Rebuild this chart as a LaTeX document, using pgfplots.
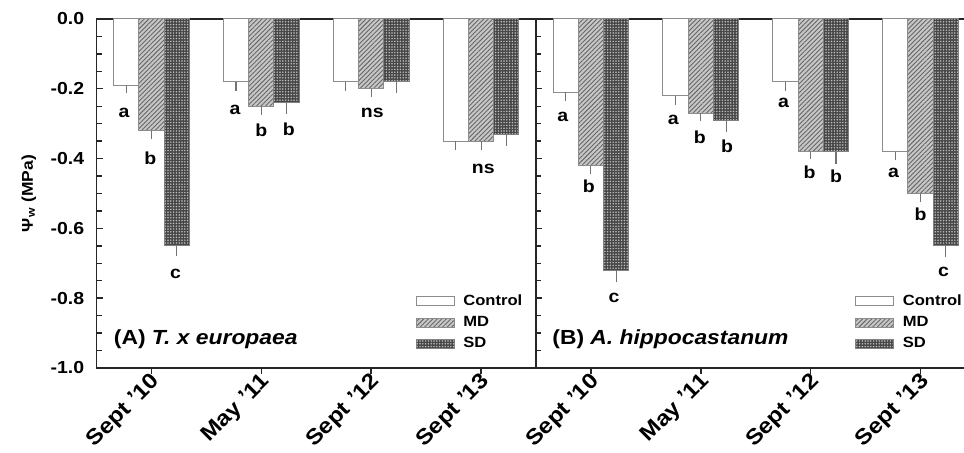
\documentclass[border=0pt]{standalone}
\usepackage{fontspec}
\setmainfont{Liberation Sans}[FakeStretch=1.12]
\usepackage{pgfplots}
\pgfplotsset{compat=1.18}
\usetikzlibrary{patterns.meta}

\tikzset{lett/.style={font=\bfseries\fontsize{8.7}{10}\selectfont, inner sep=0pt}}
\pgfplotsset{
  panel/.style={
    scale only axis, width=219.75pt, height=174.5pt,
    anchor=south west,
    ymin=-1, ymax=0, xmin=-0.5, xmax=3.5,
    ytick={-1,-0.8,-0.6,-0.4,-0.2,0},
    minor y tick num=3,
    ytick pos=left,
    xtick={0,1,2,3}, xtick pos=bottom,
    xticklabels={Sept '10, May '11, Sept '12, Sept '13},
    xtick align=outside,
    major tick length=3pt, minor tick length=2.5pt,
    axis line style={black!85, line width=0.8pt},
    every tick/.style={black!85, line width=0.7pt},
    y tick label style={font=\bfseries\fontsize{8.7}{10}\selectfont, inner sep=1pt, xshift=-5pt},
    x tick label style={font=\bfseries\fontsize{10.8}{12}\selectfont, rotate=45, anchor=north east, inner sep=0.5pt, xshift=1pt, yshift=2.2pt},
    ybar, bar width=0.23,
    legend style={draw=none, fill=none, inner sep=0pt, at={(axis description cs:0.726,0.215)}, anchor=north west,
      font=\bfseries\fontsize{7.4}{9}\selectfont, row sep=2.8pt, nodes={inner sep=0.6pt},
      /tikz/every odd column/.append style={column sep=3.6pt}},
    legend cell align=left,
    legend image code/.code={\draw[#1] (0pt,-2.25pt) rectangle (19pt,2.25pt);},
  },
  eb/.style={error bars/.cd, y dir=minus, y explicit,
      error bar style={black!55, line width=0.55pt},
      error mark options={black!55, mark size=1.75pt, line width=0.55pt}},
  ctrl/.style={draw=black!45, line width=0.5pt, fill=white, bar shift=-0.23},
  md/.style={draw=black!45, line width=0.5pt, fill=black!22,
    postaction={pattern={Lines[angle=45,distance=1.6pt,line width=0.45pt]}, pattern color=black!60}, bar shift=0},
  sd/.style={draw=black!50, line width=0.5pt, fill=black!72,
    postaction={pattern={Dots[distance=1.4pt,radius=0.42pt]}, pattern color=black!25}, bar shift=0.23},
}

\begin{document}
\begin{tikzpicture}
\begin{axis}[panel, at={(48.25pt,42.5pt)},
  yticklabels={-1.0,-0.8,-0.6,-0.4,-0.2,0.0},
  ylabel={Ψ\textsubscript{w} (MPa)},
  ylabel style={font=\bfseries\fontsize{7.8}{9}\selectfont, at={(axis description cs:-0.1445,0.5)}, anchor=base},
]
\addplot[ctrl, eb] coordinates {(0,-0.19) +- (0,0.012) (1,-0.18) +- (0,0.015) (2,-0.18) +- (0,0.015) (3,-0.35) +- (0,0.014)};
\addplot[md, eb] coordinates {(0,-0.32) +- (0,0.013) (1,-0.25) +- (0,0.014) (2,-0.20) +- (0,0.013) (3,-0.35) +- (0,0.014)};
\addplot[sd, eb] coordinates {(0,-0.65) +- (0,0.02) (1,-0.24) +- (0,0.023) (2,-0.18) +- (0,0.022) (3,-0.33) +- (0,0.023)};
\legend{Control,MD,SD}
\node[lett] at (axis cs:-0.25,-0.27) {a};
\node[lett] at (axis cs:-0.01,-0.40) {b};
\node[lett] at (axis cs:0.22,-0.73) {c};
\node[lett] at (axis cs:0.76,-0.26) {a};
\node[lett] at (axis cs:1.0,-0.32) {b};
\node[lett] at (axis cs:1.25,-0.315) {b};
\node[lett] at (axis cs:2.01,-0.27) {ns};
\node[lett] at (axis cs:3.02,-0.43) {ns};
\node[anchor=base west, inner sep=0pt, font=\bfseries\fontsize{10.2}{11}\selectfont] at (rel axis cs:0.0387,0.066) {(A) \textit{T. x europaea}};
\end{axis}
\begin{axis}[panel, at={(268pt,42.5pt)},
  yticklabels={},
]
\addplot[ctrl, eb] coordinates {(0,-0.21) +- (0,0.015) (1,-0.22) +- (0,0.015) (2,-0.18) +- (0,0.015) (3,-0.38) +- (0,0.015)};
\addplot[md, eb] coordinates {(0,-0.42) +- (0,0.013) (1,-0.27) +- (0,0.012) (2,-0.38) +- (0,0.012) (3,-0.50) +- (0,0.014)};
\addplot[sd, eb] coordinates {(0,-0.72) +- (0,0.025) (1,-0.29) +- (0,0.024) (2,-0.38) +- (0,0.025) (3,-0.65) +- (0,0.023)};
\legend{Control,MD,SD}
\node[lett] at (axis cs:-0.256,-0.28) {a};
\node[lett] at (axis cs:-0.02,-0.48) {b};
\node[lett] at (axis cs:0.21,-0.80) {c};
\node[lett] at (axis cs:0.75,-0.29) {a};
\node[lett] at (axis cs:0.99,-0.34) {b};
\node[lett] at (axis cs:1.24,-0.365) {b};
\node[lett] at (axis cs:1.753,-0.24) {a};
\node[lett] at (axis cs:1.99,-0.44) {b};
\node[lett] at (axis cs:2.23,-0.45) {b};
\node[lett] at (axis cs:2.753,-0.44) {a};
\node[lett] at (axis cs:3.0,-0.56) {b};
\node[lett] at (axis cs:3.21,-0.725) {c};
\node[anchor=base west, inner sep=0pt, font=\bfseries\fontsize{10.2}{11}\selectfont] at (rel axis cs:0.0364,0.066) {(B) \textit{A. hippocastanum}};
\end{axis}
\pgfresetboundingbox
\useasboundingbox (0,0) rectangle (482pt,226.5pt);
\end{tikzpicture}
\end{document}
